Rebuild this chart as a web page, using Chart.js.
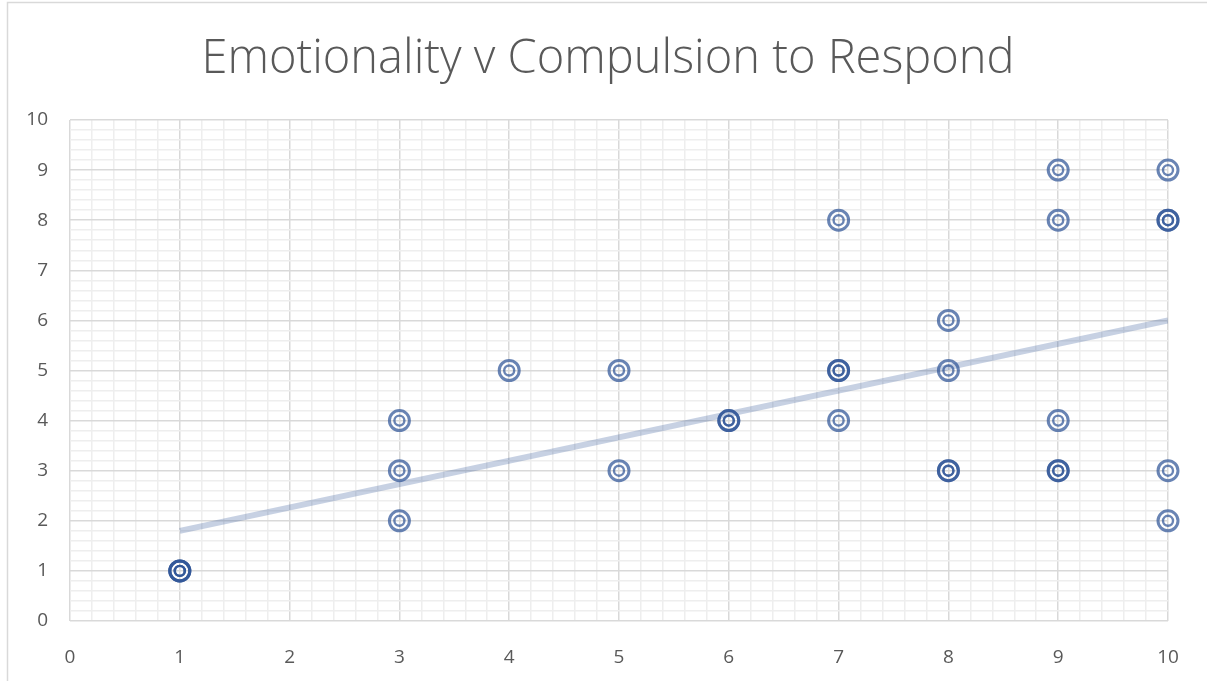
<!DOCTYPE html>
<html>
<head>
<meta charset="utf-8">
<title>Emotionality v Compulsion to Respond</title>
<script src="https://cdn.jsdelivr.net/npm/chart.js@4"></script>
<style>
  html, body { margin: 0; padding: 0; background: #fff; }
  #wrap { width: 1207px; height: 681px; }
</style>
</head>
<body>
<div id="wrap"><canvas id="scatter" width="1207" height="681"></canvas></div>
<script>
// survey responses: emotionality score vs compulsion to respond
const emotionality = [1, 1, 1, 3, 3, 3, 4, 5, 5, 6, 6, 7, 7, 7, 7, 8, 8, 8, 8, 9, 9, 9, 9, 9, 10, 10, 10, 10, 10];
const compulsion   = [1, 1, 1, 2, 3, 4, 5, 3, 5, 4, 4, 4, 5, 5, 8, 3, 3, 5, 6, 3, 3, 4, 8, 9, 2, 3, 8, 8, 9];

// linear trendline end points
const trendX = [1, 10];
const trendY = [1.8, 6.0];

const chartTitle = 'Emotionality v Compulsion to Respond';

const points = emotionality.map((x, i) => ({ x: x, y: compulsion[i] }));
const trend = trendX.map((x, i) => ({ x: x, y: trendY[i] }));

const markerColor = 'rgba(47, 85, 151, 0.72)';

const isWhole = v => Math.abs(v - Math.round(v)) < 1e-6;

// outer frame + title
const framePlugin = {
  id: 'frame',
  beforeDraw(chart) {
    const ctx = chart.ctx;
    ctx.save();
    ctx.fillStyle = '#ffffff';
    ctx.fillRect(0, 0, chart.width, chart.height);
    ctx.strokeStyle = '#d9d9d9';
    ctx.lineWidth = 1.5;
    ctx.strokeRect(7.5, 2.5, chart.width + 20, chart.height + 20);
    ctx.restore();
  },
  afterDraw(chart) {
    const ctx = chart.ctx;
    ctx.save();
    ctx.fillStyle = '#595959';
    ctx.font = '300 47px "Open Sans"';
    ctx.textAlign = 'center';
    ctx.textBaseline = 'middle';
    ctx.fillText(chartTitle, 608, 60);
    ctx.restore();
  }
};

const gridColor = ctx => isWhole(ctx.tick.value) ? '#d9d9d9' : '#eeeeee';

new Chart(document.getElementById('scatter'), {
  type: 'scatter',
  data: {
    datasets: [
      {
        label: 'Trendline',
        data: trend,
        showLine: true,
        borderColor: 'rgba(47, 85, 151, 0.27)',
        borderWidth: 6,
        pointRadius: 0,
        order: 3
      },
      {
        label: 'outer',
        data: points,
        clip: false,
        pointRadius: 10,
        pointHoverRadius: 10,
        pointBorderWidth: 3,
        pointBorderColor: markerColor,
        pointBackgroundColor: 'rgba(0,0,0,0)',
        order: 1
      },
      {
        label: 'inner',
        data: points,
        clip: false,
        pointRadius: 5,
        pointHoverRadius: 5,
        pointBorderWidth: 2.4,
        pointBorderColor: markerColor,
        pointBackgroundColor: 'rgba(0,0,0,0)',
        order: 1
      }
    ]
  },
  options: {
    responsive: false,
    animation: false,
    devicePixelRatio: 1,
    layout: { padding: { top: 120, right: 39, bottom: 0, left: 0 } },
    plugins: {
      legend: { display: false },
      title: { display: false },
      tooltip: { enabled: false }
    },
    scales: {
      x: {
        type: 'linear',
        min: 0,
        max: 10,
        afterFit(scale) { scale.height = 60; },
        border: { display: false },
        grid: { color: gridColor, lineWidth: 1.5, drawTicks: false },
        ticks: {
          stepSize: 0.2,
          autoSkip: false,
          maxRotation: 0,
          padding: 25,
          color: '#595959',
          font: { family: 'Open Sans', size: 19 },
          callback: v => isWhole(v) ? String(Math.round(v)) : ''
        }
      },
      y: {
        type: 'linear',
        min: 0,
        max: 10,
        afterFit(scale) { scale.width = 70; },
        border: { display: false },
        grid: { color: gridColor, lineWidth: 1.5, drawTicks: false },
        ticks: {
          stepSize: 0.2,
          autoSkip: false,
          padding: 22,
          color: '#595959',
          font: { family: 'Open Sans', size: 19 },
          callback: v => isWhole(v) ? String(Math.round(v)) : ''
        }
      }
    }
  },
  plugins: [framePlugin]
});
</script>
</body>
</html>
